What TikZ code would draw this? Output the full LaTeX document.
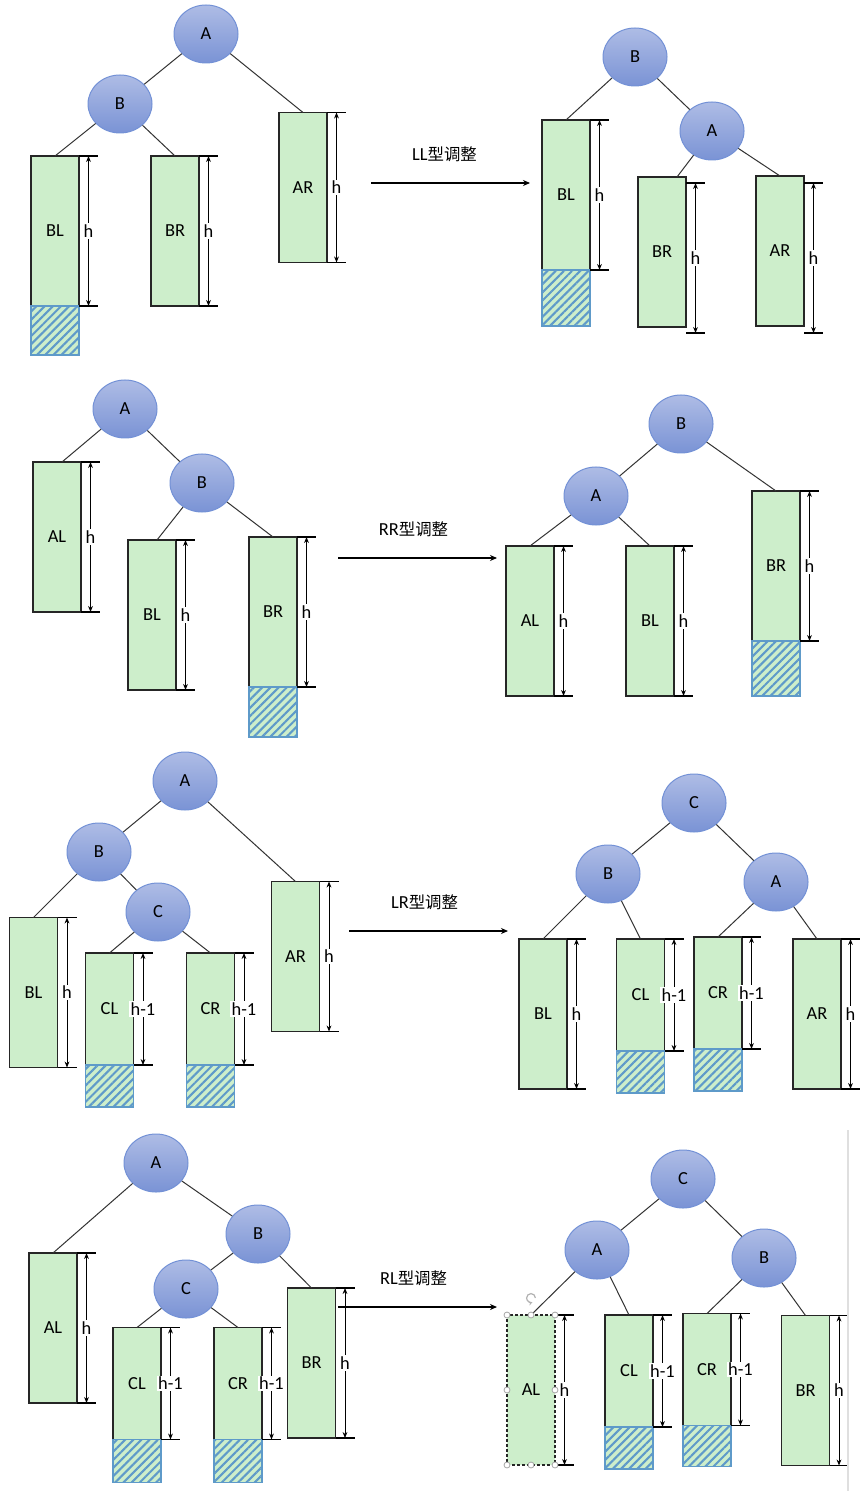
\documentclass[tikz,border=0pt]{standalone}
\usepackage{fontspec}
\setmainfont{Carlito}
\newfontfamily\cjk{Noto Sans CJK SC}
\usetikzlibrary{shapes.geometric,positioning,calc,arrows.meta,patterns.meta}

\definecolor{nodetop}{HTML}{AEBCE5}
\definecolor{nodebot}{HTML}{7A93D5}
\definecolor{nodeline}{HTML}{7391D6}
\definecolor{boxgreen}{HTML}{CDEECB}
\definecolor{hatchblue}{HTML}{5E9AC9}

\tikzset{
  vert/.style={ellipse,minimum width=32pt,minimum height=29pt,inner sep=0pt,draw=nodeline,line width=0.5pt,top color=nodetop,bottom color=nodebot},
  subtree/.style={rectangle,minimum width=24pt,minimum height=#1,inner sep=0pt,outer sep=0pt,draw=black!85,line width=0.6pt,fill=boxgreen},
  subtree/.default=75pt,
  overflow/.style={rectangle,minimum width=24pt,minimum height=#1,inner sep=0pt,outer sep=0pt,draw=hatchblue,line width=0.6pt,preaction={fill=boxgreen},pattern={Lines[angle=45,distance=2.9pt,line width=1.05pt]},pattern color=hatchblue},
  edge/.style={draw=black!80,line width=0.5pt},
  tick/.style={line width=0.6pt},
  harrow/.style={line width=0.5pt,{Stealth[length=3pt,width=2.4pt]}-{Stealth[length=3pt,width=2.4pt]}},
  hlabel/.style={fill=white,inner sep=0.6pt},
  turn/.style={line width=0.55pt,-{Stealth[length=3.5pt,width=3pt]}},
  handle/.style={circle,draw=gray!70,fill=white,inner sep=0pt,minimum size=3pt,line width=0.4pt}
}

\newcommand\hdim[3][0]{%
  \draw[tick] ($(#2.north east)+(0,#1)$) -- ++(19,0);
  \draw[tick] ($(#2.south east)+(0,#1)$) -- ++(19,0);
  \draw[harrow] ($(#2.north east)+(9.5,#1)$) -- node[hlabel]{#3} ($(#2.south east)+(9.5,#1)$);
}

\begin{document}
\begin{tikzpicture}[x=0.5pt,y=-0.5pt,font=\fontsize{9.2}{11}\selectfont]
\fill[white] (0,0) rectangle (859,1491);
\useasboundingbox (0,0) rectangle (859,1491);

\node[vert] (A1) at (206,34) {A};
\node[vert] (B1) at (120,104) {B};
\node[subtree] (BL1) at (55,231) {BL};
\node[overflow=24.5pt,below=0pt of BL1] (BL1x) {};
\node[subtree] (BR1) at (175,231) {BR};
\node[subtree] (AR1) at (303,187.5) {AR};
\draw[edge] (A1) -- (B1);
\draw[edge] (A1) -- (AR1.north);
\draw[edge] (B1) -- (BL1.north);
\draw[edge] (B1) -- (BR1.north);
\hdim{BL1}{h}
\hdim{BR1}{h}
\hdim{AR1}{h}

\coordinate (s1) at (371,183);
\coordinate (e1) at (530,183);
\draw[turn] (s1) -- node[above=7pt,xshift=-3pt]{LL{\cjk\fontsize{8.2}{10}\selectfont 型调整}} (e1);

\node[vert] (B1r) at (635,57) {B};
\node[vert] (A1r) at (712,131) {A};
\node[subtree] (BL1r) at (566,195) {BL};
\node[overflow=28pt,below=0pt of BL1r] (BL1rx) {};
\node[subtree] (BR1r) at (662,252) {BR};
\node[subtree] (AR1r) at (780,251) {AR};
\draw[edge] (B1r) -- (BL1r.north);
\draw[edge] (B1r) -- (A1r);
\draw[edge] (A1r) -- ($(BR1r.north)+(15,0)$);
\draw[edge] (A1r) -- (AR1r.north);
\hdim{BL1r}{h}
\hdim[6]{BR1r}{h}
\hdim[7]{AR1r}{h}

\node[vert] (A2) at (125,409) {A};
\node[vert] (B2) at (202,483) {B};
\node[subtree] (AL2) at (57,537) {AL};
\node[subtree] (BL2) at (152,615) {BL};
\node[subtree] (BR2) at (273,612) {BR};
\node[overflow=25pt,below=0pt of BR2] (BR2x) {};
\draw[edge] (A2) -- ($(AL2.north)+(5,0)$);
\draw[edge] (A2) -- (B2);
\draw[edge] (B2) -- ($(BL2.north)+(5,0)$);
\draw[edge] (B2) -- (BR2.north);
\hdim{AL2}{h}
\hdim{BL2}{h}
\hdim{BR2}{h}

\coordinate (s2) at (338,558);
\coordinate (e2) at (497,558);
\draw[turn] (s2) -- node[above=7pt,xshift=-2pt]{RR{\cjk\fontsize{8.2}{10}\selectfont 型调整}} (e2);

\node[vert] (B2r) at (681,424) {B};
\node[vert] (A2r) at (596,496) {A};
\node[subtree] (AL2r) at (530,621) {AL};
\node[subtree] (BL2r) at (650,621) {BL};
\node[subtree] (BR2r) at (776,566) {BR};
\node[overflow=27.5pt,below=0pt of BR2r] (BR2rx) {};
\draw[edge] (B2r) -- (A2r);
\draw[edge] (B2r) -- (BR2r.north);
\draw[edge] (A2r) -- (AL2r.north);
\draw[edge] (A2r) -- (BL2r.north);
\hdim{AL2r}{h}
\hdim{BL2r}{h}
\hdim{BR2r}{h}

\node[vert] (A3) at (185,781) {A};
\node[vert] (B3) at (99,852) {B};
\node[vert] (C3) at (158,912) {C};
\node[subtree] (BL3) at (33.5,992.5) {BL};
\node[subtree=56pt] (CL3) at (109.5,1009) {CL};
\node[overflow=21pt,below=0pt of CL3] (CL3x) {};
\node[subtree=56pt] (CR3) at (210.5,1009) {CR};
\node[overflow=21pt,below=0pt of CR3] (CR3x) {};
\node[subtree] (AR3) at (295.5,956.5) {AR};
\draw[edge] (A3) -- (B3);
\draw[edge] (A3) -- (AR3.north);
\draw[edge] (B3) -- (BL3.north);
\draw[edge] (B3) -- (C3);
\draw[edge] (C3) -- (CL3.north);
\draw[edge] (C3) -- (CR3.north);
\hdim{BL3}{h}
\hdim{CL3}{h-1}
\hdim{CR3}{h-1}
\hdim{AR3}{h}

\coordinate (s3) at (349,931);
\coordinate (e3) at (508,931);
\draw[turn] (s3) -- node[above=7pt,xshift=-2pt]{LR{\cjk\fontsize{8.2}{10}\selectfont 型调整}} (e3);

\node[vert] (C3r) at (694,803) {C};
\node[vert] (B3r) at (608,874) {B};
\node[vert] (A3r) at (776,882) {A};
\node[subtree] (BL3r) at (543,1014) {BL};
\node[subtree=56pt] (CL3r) at (640.5,995) {CL};
\node[overflow=21pt,below=0pt of CL3r] (CL3rx) {};
\node[subtree=56pt] (CR3r) at (718,993) {CR};
\node[overflow=21pt,below=0pt of CR3r] (CR3rx) {};
\node[subtree] (AR3r) at (817,1014) {AR};
\draw[edge] (C3r) -- (B3r);
\draw[edge] (C3r) -- (A3r);
\draw[edge] (B3r) -- (BL3r.north);
\draw[edge] (B3r) -- (CL3r.north);
\draw[edge] (A3r) -- (CR3r.north);
\draw[edge] (A3r) -- (AR3r.north);
\hdim{BL3r}{h}
\hdim{CL3r}{h-1}
\hdim{CR3r}{h-1}
\hdim{AR3r}{h}

\node[vert] (A4) at (156,1163) {A};
\node[vert] (B4) at (258,1234) {B};
\node[vert] (C4) at (186,1289) {C};
\node[subtree] (AL4) at (53,1328) {AL};
\node[subtree=56pt] (CL4) at (137,1383.5) {CL};
\node[overflow=21.5pt,below=0pt of CL4] (CL4x) {};
\node[subtree=56pt] (CR4) at (238,1383.5) {CR};
\node[overflow=21.5pt,below=0pt of CR4] (CR4x) {};
\node[subtree] (BR4) at (311.5,1363) {BR};
\draw[edge] (A4) -- (AL4.north);
\draw[edge] (A4) -- (B4);
\draw[edge] (B4) -- (C4);
\draw[edge] (B4) -- (BR4.north);
\draw[edge] (C4) -- (CL4.north);
\draw[edge] (C4) -- (CR4.north);
\hdim{AL4}{h}
\hdim{CL4}{h-1}
\hdim{CR4}{h-1}
\hdim{BR4}{h}

\coordinate (s4) at (338,1307);
\coordinate (e4) at (497,1307);
\draw[turn] (s4) -- node[above=7pt,xshift=-2pt]{RL{\cjk\fontsize{8.2}{10}\selectfont 型调整}} (e4);

\node[vert] (C4r) at (683,1179) {C};
\node[vert] (A4r) at (597,1250) {A};
\node[vert] (B4r) at (764,1258) {B};
\node[subtree,dash pattern=on 1.5pt off 1pt] (AL4r) at (531,1390) {AL};
\node[subtree=56pt] (CL4r) at (629,1371) {CL};
\node[overflow=21pt,below=0pt of CL4r] (CL4rx) {};
\node[subtree=56pt] (CR4r) at (707,1369.5) {CR};
\node[overflow=20.5pt,below=0pt of CR4r] (CR4rx) {};
\node[subtree] (BR4r) at (805.5,1390.5) {BR};
\draw[edge] (C4r) -- (A4r);
\draw[edge] (C4r) -- (B4r);
\draw[edge] (A4r) -- (AL4r.north);
\draw[edge] (A4r) -- (CL4r.north);
\draw[edge] (B4r) -- (CR4r.north);
\draw[edge] (B4r) -- (BR4r.north);
\hdim{AL4r}{h}
\hdim{CL4r}{h-1}
\hdim{CR4r}{h-1}
\hdim{BR4r}{h}

\foreach \a in {north west,north,north east,west,east,south west,south,south east}
  \node[handle] at (AL4r.\a) {};
\draw[gray!60,line width=0.6pt,-{Stealth[length=2pt,width=2pt]}] ($(AL4r.north)+(4.4,-17)$) arc[start angle=0,end angle=290,radius=2.2pt];
\draw[gray!25,line width=0.7pt] (848,1130) -- (848,1491);
\end{tikzpicture}
\end{document}
